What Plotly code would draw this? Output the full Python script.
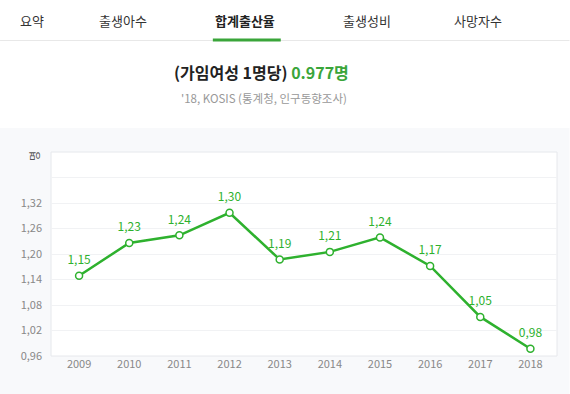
import plotly.graph_objects as go

years = ["2009", "2010", "2011", "2012", "2013", "2014", "2015", "2016", "2017", "2018"]
rates = [1.149, 1.226, 1.244, 1.297, 1.187, 1.205, 1.239, 1.172, 1.052, 0.977]
rate_labels = ["1,15", "1,23", "1,24", "1,30", "1,19", "1,21", "1,24", "1,17", "1,05", "0,98"]
y_ticks = [0.96, 1.02, 1.08, 1.14, 1.20, 1.26, 1.32, 1.38]
y_tick_labels = ["0,96", "1,02", "1,08", "1,14", "1,20", "1,26", "1,32", ""]
tabs = ["요약", "출생아수", "합계출산율", "출생성비", "사망자수"]

W, H = 570, 394
L, R, T, B = 51, 557.5, 152, 356
FONT = "Noto Sans CJK KR"
GREEN = "#2eb12e"

def px(x):
    return (x - L) / (R - L)

def py(y):
    return (B - y) / (B - T)

fig = go.Figure()
fig.add_trace(go.Scatter(
    x=list(range(len(years))), y=rates, mode="lines+markers",
    line=dict(color=GREEN, width=2.5),
    marker=dict(size=7, color="white", line=dict(color=GREEN, width=1.5)),
    cliponaxis=False, hoverinfo="skip",
))
fig.add_trace(go.Scatter(
    x=list(range(len(years))), y=rates, mode="markers+text",
    text=rate_labels, textposition="top center",
    textfont=dict(family=FONT, size=12, color=GREEN),
    marker=dict(size=12, opacity=0),
    cliponaxis=False, hoverinfo="skip",
))

shapes = [
    dict(type="rect", xref="paper", yref="paper", x0=px(0), x1=px(W), y0=py(H), y1=py(128),
         fillcolor="#f8f9fb", line=dict(width=0), layer="below"),
    dict(type="rect", xref="paper", yref="paper", x0=0, x1=1, y0=0, y1=1,
         fillcolor="white", line=dict(color="#e6e8ec", width=1), layer="below"),
    dict(type="line", xref="paper", yref="paper", x0=px(0), x1=px(W), y0=py(40.5), y1=py(40.5),
         line=dict(color="#e8e8e8", width=1)),
    dict(type="line", xref="paper", yref="paper", x0=px(213), x1=px(281), y0=py(40), y1=py(40),
         line=dict(color="#3aa53a", width=3)),
]

tab_x = [32, 123, 245, 367.5, 478]
annotations = []
for i, (t, xx) in enumerate(zip(tabs, tab_x)):
    sel = i == 2
    annotations.append(dict(
        text=f"<b>{t}</b>" if sel else t, x=px(xx), y=py(20.5), xref="paper", yref="paper",
        showarrow=False, xanchor="center", yanchor="middle",
        font=dict(family=FONT, size=13, color="#222" if sel else "#333")))

annotations.append(dict(
    text="<b>(가임여성 1명당) <span style='color:#3aa53a'>0.977명</span></b>",
    x=px(262), y=py(72), xref="paper", yref="paper", showarrow=False,
    xanchor="center", yanchor="middle", font=dict(family=FONT, size=16, color="#222")))
annotations.append(dict(
    text="'18, KOSIS (통계청, 인구동향조사)",
    x=px(264), y=py(98), xref="paper", yref="paper", showarrow=False,
    xanchor="center", yanchor="middle", font=dict(family=FONT, size=11.5, color="#999")))
annotations.append(dict(
    text="명", x=px(34), y=py(156), xref="paper", yref="paper", showarrow=False,
    textangle=-90, xanchor="center", yanchor="middle",
    font=dict(family=FONT, size=11, color="#555")))

fig.update_layout(
    width=W, height=H, margin=dict(l=L, r=W - R, t=T, b=H - B),
    paper_bgcolor="white", plot_bgcolor="white", showlegend=False,
    shapes=shapes, annotations=annotations,
    xaxis=dict(range=[-0.56, 9.53], tickvals=list(range(len(years))), ticktext=years,
               showgrid=False, zeroline=False, showline=False, ticks="",
               tickfont=dict(family=FONT, size=11, color="#888"), fixedrange=True),
    yaxis=dict(range=[0.96, 1.44], tickvals=y_ticks, ticktext=y_tick_labels,
               showgrid=True, gridcolor="#f1f2f4", gridwidth=1, zeroline=False, showline=False,
               ticks="", ticklabelstandoff=8,
               tickfont=dict(family=FONT, size=11, color="#888"), fixedrange=True),
)

fig.write_html("out.html", config={"displayModeBar": False},
               post_script="document.body.style.margin='0';document.body.style.overflow='hidden';")
